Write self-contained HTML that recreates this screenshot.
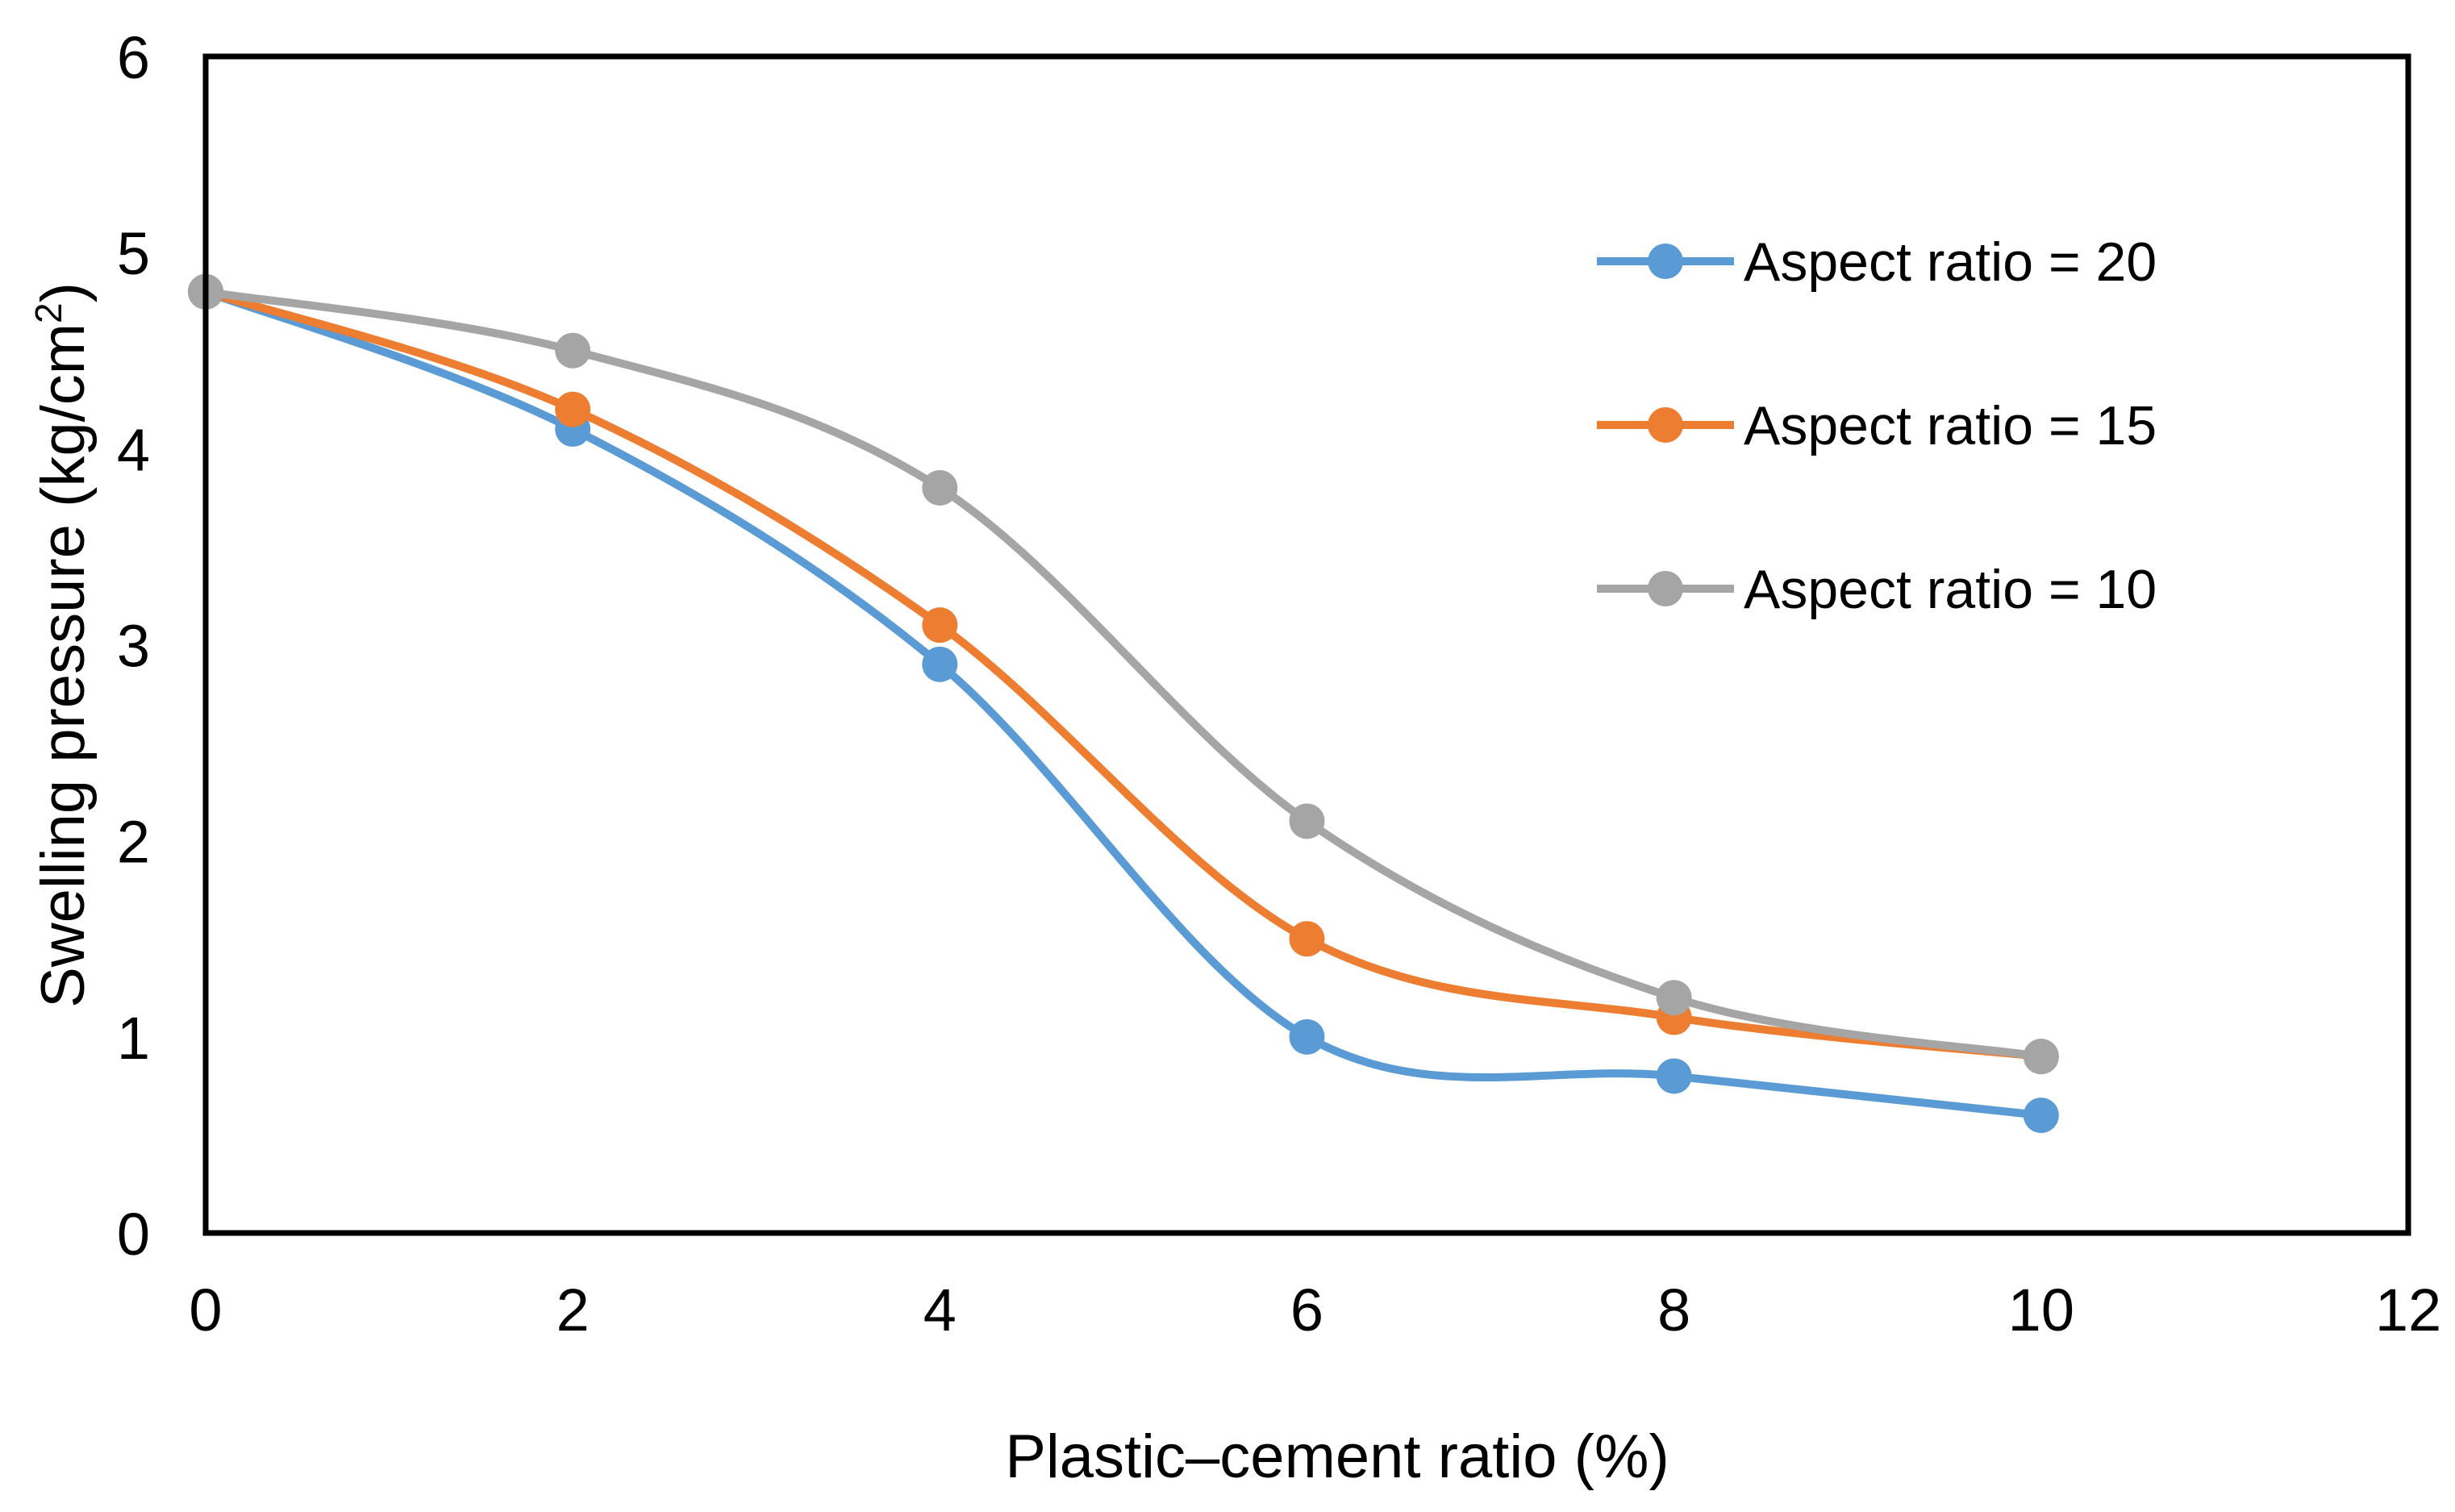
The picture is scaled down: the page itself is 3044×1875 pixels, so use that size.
<!DOCTYPE html>
<html><head><meta charset="utf-8"><style>
body{margin:0;background:#fff}
svg{display:block}
text{font-family:"Liberation Sans","DejaVu Sans",sans-serif;fill:#000}
</style></head><body>
<svg id="chart" width="3044" height="1875" viewBox="0 0 3044 1875" xmlns="http://www.w3.org/2000/svg">
<rect x="0" y="0" width="3044" height="1875" fill="#fff"/>
<g id="ticks"></g>
<g id="series"></g>
<rect x="255" y="70" width="2731" height="1459" fill="none" stroke="#000" stroke-width="7"/>
<text x="1658" y="1832" font-size="76" text-anchor="middle">Plastic–cement ratio (%)</text>
<text transform="translate(104,800) rotate(-90)" font-size="76" text-anchor="middle">Swelling pressure (kg/cm<tspan font-size="46" dy="-28">2</tspan><tspan dy="28">)</tspan></text>
<g id="legend"></g>
</svg>
<script>
const categories=[0,2,4,6,8,10];
const seriesNames=["Aspect ratio = 20","Aspect ratio = 15","Aspect ratio = 10"];
const ar20=[4.8,4.1,2.9,1.0,0.8,0.6];
const ar15=[4.8,4.2,3.1,1.5,1.1,0.9];
const ar10=[4.8,4.5,3.8,2.1,1.2,0.9];
const xTicks=[0,2,4,6,8,10,12];
const yTicks=[0,1,2,3,4,5,6];
const colors=["#5b9bd5","#ed7d31","#a5a5a5"];
const X0=255,X1=2986,Y0=1529,Y1=70;
const sx=v=>X0+(v-0)/(12-0)*(X1-X0);
const sy=v=>Y0-(v-0)/(6-0)*(Y0-Y1);
const NS="http://www.w3.org/2000/svg";
const mk=(t,a)=>{const e=document.createElementNS(NS,t);for(const k in a)e.setAttribute(k,a[k]);return e;};
const tg=document.getElementById('ticks');
xTicks.forEach(v=>{const t=mk('text',{x:sx(v),y:1650,'font-size':74,'text-anchor':'middle'});t.textContent=v;


tg.appendChild(t);});
yTicks.forEach(v=>{const t=mk('text',{x:186,y:sy(v)+27,'font-size':74,'text-anchor':'end'});t.textContent=v;


tg.appendChild(t);});
function smooth(pts){let d=`M${pts[0][0]},${pts[0][1]}`;for(let i=0;i<pts.length-1;i++){const p0=pts[i-1]||pts[i],p1=pts[i],p2=pts[i+1],p3=pts[i+2]||p2;const c1=[p1[0]+(p2[0]-p0[0])/6,p1[1]+(p2[1]-p0[1])/6],c2=[p2[0]-(p3[0]-p1[0])/6,p2[1]-(p3[1]-p1[1])/6];d+=` C${c1[0]},${c1[1]} ${c2[0]},${c2[1]} ${p2[0]},${p2[1]}`;}return d;}
const sg=document.getElementById('series');
const lg=document.getElementById('legend');
const all=[ar20,ar15,ar10];
[0,1,2].forEach(i=>{const vals=all[i];const pts=categories.map((c,j)=>[sx(c),sy(vals[j])]);
const g=mk('g',{});


const p=mk('path',{d:smooth(pts),fill:'none',stroke:colors[i],'stroke-width':10});


g.appendChild(p);
pts.forEach(pt=>{const c=mk('circle',{cx:pt[0],cy:pt[1],r:22,fill:colors[i]});


g.appendChild(c);});
sg.appendChild(g);
const ly=[324,527,730][i];
const le=mk('g',{});


le.appendChild(mk('line',{x1:1980,x2:2150,y1:ly,y2:ly,stroke:colors[i],'stroke-width':10}));
le.appendChild(mk('circle',{cx:2065,cy:ly,r:22,fill:colors[i]}));
const t=mk('text',{x:2162,y:ly+24,'font-size':68});t.textContent=seriesNames[i];le.appendChild(t);
lg.appendChild(le);});
</script>
</body></html>
